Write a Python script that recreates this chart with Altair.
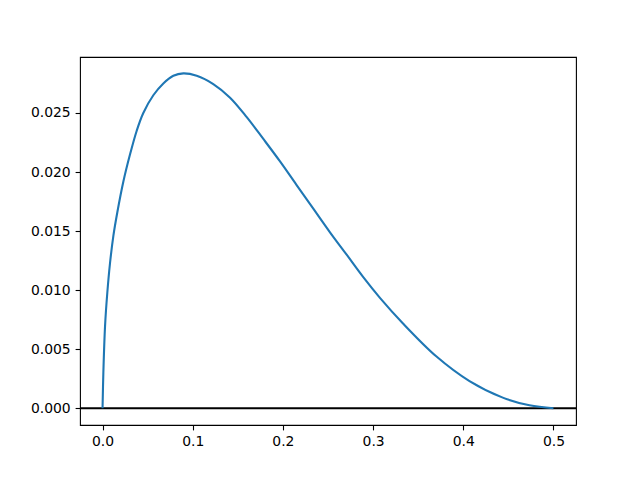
import altair as alt
import pandas as pd

xs = [0.0, 0.0009, 0.0028, 0.0053, 0.0083, 0.012, 0.0164, 0.0231, 0.0305,
      0.0379, 0.0452, 0.0563, 0.0674, 0.0785, 0.0896, 0.1044, 0.1228, 0.1414,
      0.1599, 0.1783, 0.1968, 0.2152, 0.2337, 0.2522, 0.2707, 0.2891, 0.3076,
      0.3329, 0.37, 0.4069, 0.4438, 0.4734, 0.5]
ys = [0.0, 0.0030, 0.0070, 0.0098, 0.0123, 0.0146, 0.0166, 0.0192, 0.0215,
      0.0235, 0.0250, 0.0265, 0.0275, 0.02815, 0.02835, 0.02815, 0.02745, 0.0263,
      0.02465, 0.0228, 0.0209, 0.0189, 0.0169, 0.0149, 0.0130, 0.0111, 0.00935,
      0.0072, 0.0044, 0.0023, 0.0009, 0.00025, 0.0]

x_ticks = [0.0, 0.1, 0.2, 0.3, 0.4, 0.5]
y_ticks = [0.0, 0.005, 0.010, 0.015, 0.020, 0.025]

df = pd.DataFrame({"x": xs, "y": ys})

axis_common = dict(
    grid=False, domain=False, tickColor="black", tickWidth=1.1, tickSize=4.9,
    labelPadding=4.9, labelColor="black", labelFont="DejaVu Sans",
    labelFontSize=13.9, title=None,
)

xscale = alt.Scale(domain=[-0.025, 0.525], nice=False, zero=False)
yscale = alt.Scale(domain=[-0.001416, 0.02974], nice=False, zero=False)

line = alt.Chart(df).mark_line(color="#1f77b4", strokeWidth=2.1, interpolate="catmull-rom").encode(
    x=alt.X("x:Q", scale=xscale, axis=alt.Axis(values=x_ticks, format=".1f", **axis_common)),
    y=alt.Y("y:Q", scale=yscale, axis=alt.Axis(values=y_ticks, format=".3f", **axis_common)),
)

hline = alt.Chart(pd.DataFrame({"y0": [0.0]})).mark_rule(color="black", strokeWidth=2.1).encode(
    y=alt.Y("y0:Q", scale=yscale),
)

chart = alt.layer(hline, line).properties(
    width=496, height=368,
    background="white",
    autosize=alt.AutoSizeParams(type="none"),
    padding={"left": 72, "top": 49, "right": 56, "bottom": 45},
).configure_view(stroke="black", strokeWidth=1.1)

chart.save("out.html", embed_options={"renderer": "svg", "actions": False})
